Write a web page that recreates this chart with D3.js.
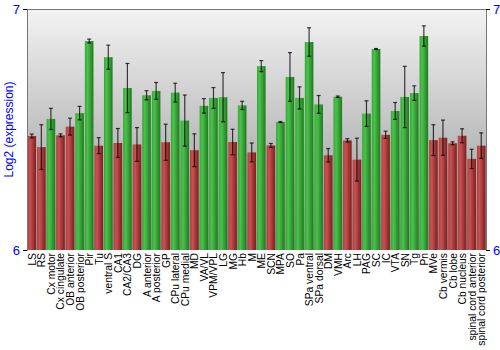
<!DOCTYPE html>
<html><head><meta charset="utf-8">
<script src="https://cdn.jsdelivr.net/npm/d3@7"></script>
<style>body{margin:0;background:#fff}svg{display:block}</style>
</head><body>
<script>
const categories = ["LS","RS","Cx motor","Cx cingulate","OB anterior","OB posterior","Pir","Tu","ventral S","CA1","CA2/CA3","DG","A anterior","A posterior","GP","CPu lateral","CPu medial","MD","VA/VL","VPM/VPL","LG","MG","Hb","M","ME","SCN","MPA","SO","Pa","SPa ventral","SPa dorsal","DM","VMH","Arc","LH","PAG","SC","IC","VTA","SN","Tg","Pn","MVe","Cb vermis","Cb lobe","Cb nucleus","spinal cord anterior","spinal cord posterior"];
const values = [6.473,6.427,6.544,6.476,6.512,6.568,6.867,6.433,6.800,6.444,6.672,6.438,6.642,6.660,6.447,6.653,6.537,6.414,6.598,6.631,6.634,6.448,6.600,6.405,6.763,6.434,6.531,6.718,6.631,6.863,6.604,6.393,6.636,6.455,6.375,6.566,6.834,6.478,6.577,6.635,6.651,6.888,6.456,6.466,6.443,6.474,6.378,6.433];
const errors = [0.008,0.093,0.044,0.006,0.035,0.028,0.008,0.033,0.050,0.060,0.102,0.070,0.019,0.035,0.075,0.039,0.106,0.068,0.030,0.043,0.102,0.053,0.017,0.039,0.023,0.008,0.002,0.101,0.046,0.059,0.037,0.028,0.003,0.007,0.089,0.053,0.002,0.015,0.035,0.127,0.030,0.042,0.064,0.073,0.006,0.029,0.040,0.053];
const groups = ["low","low","high","low","low","high","high","low","high","low","high","low","high","high","low","high","high","low","high","high","high","low","high","low","high","low","high","high","high","high","high","low","high","low","low","high","high","low","high","high","high","high","low","low","low","low","low","low"];
const yDomain = [6, 7];
const yTicks = [6, 7];

const W = 500, H = 350;
const m = {left: 27, right: 14, top: 9, bottom: 100};
const svg = d3.select("body").append("svg").attr("width", W).attr("height", H);
const defs = svg.append("defs");

const bg = defs.append("linearGradient").attr("id","bg").attr("x1",0).attr("y1",0).attr("x2",0).attr("y2",1);
bg.append("stop").attr("offset","0%").attr("stop-color","#f3f3f3");
bg.append("stop").attr("offset","100%").attr("stop-color","#909090");

function barGrad(id, light, mid, dark) {
  const g = defs.append("linearGradient").attr("id", id).attr("x1",0).attr("y1",0).attr("x2",1).attr("y2",0);
  g.append("stop").attr("offset","0%").attr("stop-color", mid);
  g.append("stop").attr("offset","30%").attr("stop-color", light);
  g.append("stop").attr("offset","100%").attr("stop-color", dark);
}
barGrad("gRed", "#c85252", "#b03e3e", "#7c1e1e");
barGrad("gGreen", "#4cc24c", "#34a834", "#1e7a1e");

const x = d3.scaleBand().domain(categories).range([m.left, W - m.right]).paddingInner(0.1).paddingOuter(0.05);
const y = d3.scaleLinear().domain(yDomain).range([H - m.bottom, m.top]);

svg.append("rect").attr("x", m.left).attr("y", m.top)
  .attr("width", W - m.right - m.left).attr("height", H - m.bottom - m.top)
  .attr("fill", "url(#bg)");

const data = categories.map((c, i) => ({c, v: values[i], e: errors[i], g: groups[i]}));

svg.append("g").selectAll("rect").data(data).join("rect")
  .attr("x", d => x(d.c)).attr("width", x.bandwidth())
  .attr("y", d => y(d.v)).attr("height", d => y(yDomain[0]) - y(d.v))
  .attr("fill", d => d.g === "high" ? "url(#gGreen)" : "url(#gRed)");

const eg = svg.append("g").attr("stroke", "#000").attr("stroke-opacity", 0.75).attr("stroke-width", 1.2);
data.forEach(d => {
  const cx = x(d.c) + x.bandwidth() / 2;
  const g = eg.append("g");
  g.append("line").attr("x1", cx).attr("x2", cx).attr("y1", y(d.v - d.e)).attr("y2", y(d.v + d.e));
  g.append("line").attr("x1", cx - 2).attr("x2", cx + 2).attr("y1", y(d.v - d.e)).attr("y2", y(d.v - d.e));
  g.append("line").attr("x1", cx - 2).attr("x2", cx + 2).attr("y1", y(d.v + d.e)).attr("y2", y(d.v + d.e));
});

svg.append("line").attr("x1", m.left).attr("x2", W - m.right).attr("y1", m.top + 0.5).attr("y2", m.top + 0.5).attr("stroke", "#777");

const yl = d3.axisLeft(y).tickValues(yTicks).tickSize(4).tickFormat(d3.format("d"));
const ga = svg.append("g").attr("transform", `translate(${m.left},0)`).call(yl);
ga.select(".domain").attr("stroke", "#777");
ga.selectAll(".tick line").attr("stroke", "#000");
ga.selectAll("text").attr("fill", "#0000ff").style("font-family", "Liberation Sans, Arial, sans-serif").style("font-size", "13px");

const yr = d3.axisRight(y).tickValues(yTicks).tickSize(4).tickFormat(d3.format("d"));
const gr = svg.append("g").attr("transform", `translate(${W - m.right},0)`).call(yr);
gr.select(".domain").attr("stroke", "#777");
gr.selectAll(".tick line").attr("stroke", "#000");
gr.selectAll("text").attr("fill", "#0000ff").style("font-family", "Liberation Sans, Arial, sans-serif").style("font-size", "13px");

svg.append("text").attr("transform", `translate(13,${(m.top + H - m.bottom) / 2}) rotate(-90)`)
  .attr("text-anchor", "middle").attr("fill", "#0000ff")
  .style("font-family", "Liberation Sans, Arial, sans-serif").style("font-size", "12px")
  .text("Log2 (expression)");

svg.append("g").selectAll("text").data(categories).join("text")
  .attr("transform", d => `translate(${x(d) + x.bandwidth() / 2 + 4},${H - m.bottom + 3}) rotate(-90)`)
  .attr("text-anchor", "end")
  .style("font-family", "Liberation Sans, Arial, sans-serif").style("font-size", "10.3px")
  .attr("fill", "#000")
  .text(d => d);
</script>
</body></html>
